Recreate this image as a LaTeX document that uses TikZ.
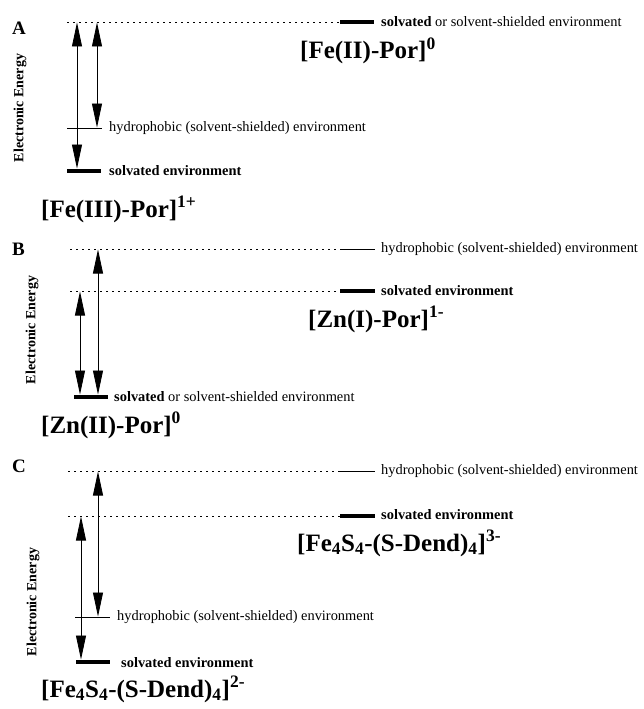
\documentclass[tikz,border=0pt]{standalone}
\usepackage{fontspec}
\setmainfont{Liberation Serif}
\usetikzlibrary{arrows.meta}
\begin{document}
\begin{tikzpicture}[x=1pt,y=-1pt,
  lvlthin/.style={line width=0.9pt},
  lvlthick/.style={line width=4.5pt},
  dotline/.style={line width=0.8pt, dash pattern=on 1.6pt off 4.4pt},
  trans/.style={line width=0.8pt, {Triangle[length=24pt,width=10pt]}-{Triangle[length=24pt,width=10pt]}},
  envtxt/.style={anchor=west, font=\fontsize{14.4}{16}\selectfont, inner sep=0pt},
  big/.style={anchor=base west, font=\fontsize{25}{28}\selectfont\bfseries, inner sep=0pt},
  panel/.style={anchor=base west, font=\fontsize{19}{22}\selectfont\bfseries, inner sep=0pt},
  axislbl/.style={rotate=90, font=\fontsize{14}{16}\selectfont\bfseries, inner sep=0pt},
]
\path[use as bounding box] (0,0) rectangle (644,709);

% ---------------- Panel A ----------------
\node[panel] (pA) at (12,35) {A};
\node[axislbl] (eA) at (20,108) {Electronic Energy};
\coordinate (a0l) at (67,22); \coordinate (a0m) at (340,22); \coordinate (a0r) at (374,22);
\draw[dotline] (a0l) -- (a0m);
\draw[lvlthick] (a0m) -- (a0r);
\node[envtxt] (a0t) at (381,22) {\textbf{solvated} or solvent-shielded environment};
\node[big] (a0n) at (300,59) {[Fe(II)-Por]\textsuperscript{0}};
\coordinate (a1l) at (67,128); \coordinate (a1r) at (102,128);
\draw[lvlthin] (a1l) -- (a1r);
\node[envtxt] (a1t) at (109,128) {hydrophobic (solvent-shielded) environment};
\coordinate (a2l) at (67,171); \coordinate (a2r) at (101,171);
\draw[lvlthick] (a2l) -- (a2r);
\node[envtxt] (a2t) at (109,171) {\textbf{solvated environment}};
\node[big] (a2n) at (41,217) {[Fe(III)-Por]\textsuperscript{1+}};
\coordinate (aT1) at (77,22.5); \coordinate (aB1) at (77,168.5);
\coordinate (aT2) at (97,22.5); \coordinate (aB2) at (97,127.5);
\draw[trans] (aT1) -- (aB1);
\draw[trans] (aT2) -- (aB2);

% ---------------- Panel B ----------------
\node[panel] (pB) at (12,255) {B};
\node[axislbl] (eB) at (32,330) {Electronic Energy};
\coordinate (b0l) at (70,249); \coordinate (b0m) at (340,249); \coordinate (b0r) at (375,249);
\draw[dotline] (b0l) -- (b0m);
\draw[lvlthin] (b0m) -- (b0r);
\node[envtxt] (b0t) at (381,249) {hydrophobic (solvent-shielded) environment};
\coordinate (b1l) at (70,291); \coordinate (b1m) at (340,291); \coordinate (b1r) at (375,291);
\draw[dotline] (b1l) -- (b1m);
\draw[lvlthick] (b1m) -- (b1r);
\node[envtxt] (b1t) at (381,291) {\textbf{solvated environment}};
\node[big] (b1n) at (308,327) {[Zn(I)-Por]\textsuperscript{1-}};
\coordinate (b2l) at (74,397); \coordinate (b2r) at (108,397);
\draw[lvlthick] (b2l) -- (b2r);
\node[envtxt] (b2t) at (114,397) {\textbf{solvated} or solvent-shielded environment};
\node[big] (b2n) at (41,433) {[Zn(II)-Por]\textsuperscript{0}};
\coordinate (bT1) at (80,291.5); \coordinate (bB1) at (80,394.5);
\coordinate (bT2) at (98,249.5); \coordinate (bB2) at (98,394.5);
\draw[trans] (bT1) -- (bB1);
\draw[trans] (bT2) -- (bB2);

% ---------------- Panel C ----------------
\node[panel] (pC) at (12,472) {C};
\node[axislbl] (eC) at (33,602) {Electronic Energy};
\coordinate (c0l) at (68,471); \coordinate (c0m) at (340,471); \coordinate (c0r) at (375,471);
\draw[dotline] (c0l) -- (c0m);
\draw[lvlthin] (c0m) -- (c0r);
\node[envtxt] (c0t) at (381,471) {hydrophobic (solvent-shielded) environment};
\coordinate (c1l) at (68,516); \coordinate (c1m) at (340,516); \coordinate (c1r) at (375,516);
\draw[dotline] (c1l) -- (c1m);
\draw[lvlthick] (c1m) -- (c1r);
\node[envtxt] (c1t) at (381,515) {\textbf{solvated environment}};
\node[big] (c1n) at (297,551) {[Fe\textsubscript{4}S\textsubscript{4}-(S-Dend)\textsubscript{4}]\textsuperscript{3-}};
\coordinate (c2l) at (75,617); \coordinate (c2r) at (110,617);
\draw[lvlthin] (c2l) -- (c2r);
\node[envtxt] (c2t) at (117,617) {hydrophobic (solvent-shielded) environment};
\coordinate (c3l) at (76,662); \coordinate (c3r) at (110,662);
\draw[lvlthick] (c3l) -- (c3r);
\node[envtxt] (c3t) at (121,663) {\textbf{solvated environment}};
\node[big] (c3n) at (41,697) {[Fe\textsubscript{4}S\textsubscript{4}-(S-Dend)\textsubscript{4}]\textsuperscript{2-}};
\coordinate (cT1) at (81,516.5); \coordinate (cB1) at (81,659.5);
\coordinate (cT2) at (98,471.5); \coordinate (cB2) at (98,616.5);
\draw[trans] (cT1) -- (cB1);
\draw[trans] (cT2) -- (cB2);
\end{tikzpicture}
\end{document}
